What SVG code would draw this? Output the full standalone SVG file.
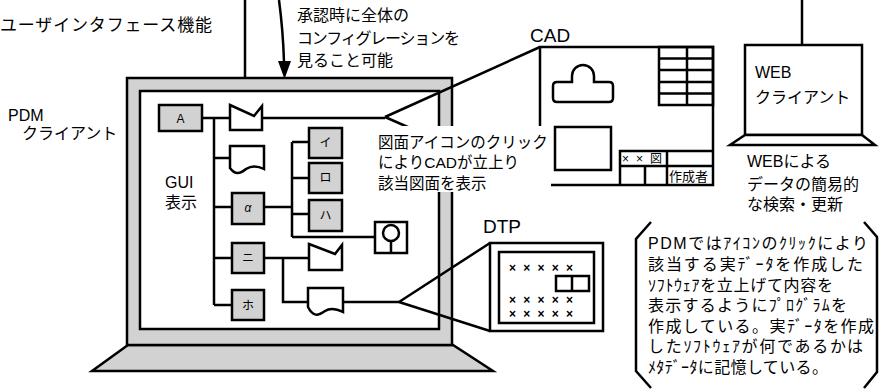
<svg xmlns="http://www.w3.org/2000/svg" width="879" height="390" viewBox="0 0 879 390">
<style>
  text{font-family:"Liberation Sans","Noto Sans CJK JP",sans-serif;fill:#000}
  .t16{font-size:16px}
  .t15{font-size:15.5px}
  .ln{fill:none;stroke:#000;stroke-width:2.5}
  .g{fill:#d2d2d2;stroke:#000;stroke-width:2.5}
  .w{fill:#fff;stroke:#000;stroke-width:2.5}
  .lbl{font-size:12px;text-anchor:middle}
  .x{font-size:12px;font-weight:bold}
</style>
<rect width="879" height="390" fill="#fff"/>

<!-- heading and approval note -->
<text x="0" y="31" font-size="17" textLength="212">ユーザインタフェース機能</text>
<g class="t16">
  <text x="297" y="21">承認時に全体の</text>
  <text x="297" y="44" textLength="163">コンフィグレーションを</text>
  <text x="297" y="66">見ること可能</text>
</g>

<!-- PDM client laptop -->
<g id="pdm-client">
  <path class="g" d="M128,345 H453 L493,371 H92 Z"/>
  <rect class="g" x="127" y="78" width="325" height="267"/>
  <rect class="w" x="140" y="91" width="299" height="238"/>
  <text class="t16" x="8" y="121">PDM</text>
  <text class="t16" x="22" y="139">クライアント</text>
  <text class="t16" x="165" y="188">GUI</text>
  <text class="t16" x="165" y="208">表示</text>
</g>

<!-- connectors -->
<g id="connectors">
  <line class="ln" x1="245" y1="0" x2="245" y2="78"/>
  <line class="ln" x1="802" y1="0" x2="802" y2="45"/>
  <path class="ln" d="M279,0 Q283,30 284,62"/>
  <polygon points="278,61 291,61 284.5,79" fill="#000"/>
  <!-- tree -->
  <path class="ln" d="M202,118 H230 M214,118 V305 M214,158 H230 M214,207 H232 M214,258 H232 M214,305 H232"/>
  <path class="ln" d="M264,207 H292 M292,142 V237 M292,142 H309 M292,178 H309 M292,214 H309 M292,237 H375"/>
  <path class="ln" d="M264,258 H309 M283,258 V302 H308 M343,302 H399"/>
  <path class="ln" d="M262,118 H385"/>
  <!-- to CAD and DTP -->
  <path class="ln" d="M385,117 L540,47 M385,117 L540,185"/>
  <path class="ln" d="M399,302 L490,243 M399,302 L490,331"/>
</g>

<!-- tree nodes -->
<g id="node-a"><rect class="g" x="159" y="105" width="43" height="26"/><text class="lbl" x="180.5" y="123">A</text></g>
<g id="node-doc1"><path class="w" d="M230,105 L254,116 L262,106 V130 H230 Z"/></g>
<g id="node-doc2"><path class="w" d="M230,146 H264 V169 C258,166 252,165 246,169 C240,174 235,175 230,168 Z"/></g>
<g id="node-alpha"><rect class="g" x="232" y="193" width="32" height="31"/><text class="lbl" x="248" y="212" font-style="italic">α</text></g>
<g id="node-i"><rect class="g" x="309" y="128" width="33" height="30"/><text class="lbl" x="325.5" y="147">イ</text></g>
<g id="node-ro"><rect class="g" x="309" y="163" width="33" height="30"/><text class="lbl" x="325.5" y="182">ロ</text></g>
<g id="node-ha"><rect class="g" x="309" y="200" width="33" height="31"/><text class="lbl" x="325.5" y="220">ハ</text></g>
<g id="node-person"><rect class="w" x="375" y="222" width="32" height="31"/><circle class="ln" cx="391" cy="233" r="8"/><line class="ln" x1="391" y1="241" x2="391" y2="253"/></g>
<g id="node-ni"><rect class="g" x="232" y="243" width="32" height="30"/><text class="lbl" x="248" y="262">ニ</text></g>
<g id="node-doc3"><path class="w" d="M309,244 L335,254 L342,245 V270 H309 Z"/></g>
<g id="node-ho"><rect class="g" x="232" y="290" width="32" height="30"/><text class="lbl" x="248" y="310">ホ</text></g>
<g id="node-doc4"><path class="w" d="M308,288 H343 V312 C337,309 331,307 325,311 C318,316 313,317 308,307 Z"/></g>

<!-- CAD drawing -->
<g id="cad">
  <text x="530" y="42" font-size="19">CAD</text>
  <rect class="ln" x="540" y="47" width="173" height="138"/>
  <rect class="ln" x="659" y="47" width="54" height="58"/>
  <path class="ln" d="M659,58.5 H713 M659,70 H713 M659,82 H713 M659,93.5 H713 M687,47 V105"/>
  <path class="ln" d="M572,82 V76 A11,11 0 0 1 594,76 V82 H609 Q613,82 613,86 V98 Q613,102 609,102 H557 Q553,102 553,98 V86 Q553,82 557,82 Z"/>
  <rect class="ln" x="555" y="127" width="56" height="43"/>
  <path class="ln" d="M620,185 V151 H713 M620,166 H713 M667,151 V185 M645,166 V185"/>
  <text x="622" y="163" font-size="12" textLength="40">××図</text>
  <text x="669" y="181" font-size="13">作成者</text>
  <rect x="376" y="126" width="175" height="66" fill="#fff"/>
  <g class="t15">
    <text x="378" y="148">図面アイコンのクリック</text>
    <text x="378" y="168">によりCADが立上り</text>
    <text x="378" y="189">該当図面を表示</text>
  </g>
</g>

<!-- DTP page -->
<g id="dtp">
  <text x="483" y="233" font-size="19">DTP</text>
  <rect class="ln" x="490" y="243" width="113" height="88"/>
  <rect class="ln" x="499" y="252" width="95" height="71"/>
  <text class="x" x="509" y="272" textLength="64">×××××</text>
  <rect class="ln" x="556" y="276" width="33" height="15"/>
  <line class="ln" x1="572" y1="276" x2="572" y2="291"/>
  <text class="x" x="509" y="304" textLength="64">×××××</text>
  <text class="x" x="509" y="318" textLength="64">×××××</text>
</g>

<!-- web client -->
<g id="web-client">
  <rect class="w" x="745" y="45" width="117" height="90"/>
  <path class="w" d="M745,135 H862 L875,145 H730 Z"/>
  <text class="t16" x="755" y="78">WEB</text>
  <text class="t16" x="755" y="103">クライアント</text>
  <text class="t16" x="747" y="167">WEBによる</text>
  <text class="t16" x="747" y="190">データの簡易的</text>
  <text class="t16" x="747" y="210">な検索・更新</text>
</g>

<!-- note -->
<g id="note">
  <path class="ln" d="M651,222 L636,239 V371 L651,388"/>
  <path class="ln" d="M864,222 L877,237 V372 L864,388"/>
  <g class="t16">
    <text x="648" y="249" textLength="220">PDMではｱｲｺﾝのｸﾘｯｸにより</text>
    <text x="648" y="270" textLength="215">該当する実ﾃﾞｰﾀを作成した</text>
    <text x="648" y="291" textLength="185">ｿﾌﾄｳｪｱを立上げて内容を</text>
    <text x="648" y="311" textLength="199">表示するようにﾌﾟﾛｸﾞﾗﾑを</text>
    <text x="648" y="332" textLength="226">作成している。実ﾃﾞｰﾀを作成</text>
    <text x="648" y="352" textLength="215">したｿﾌﾄｳｪｱが何であるかは</text>
    <text x="648" y="373" textLength="180">ﾒﾀﾃﾞｰﾀに記憶している。</text>
  </g>
</g>
</svg>
